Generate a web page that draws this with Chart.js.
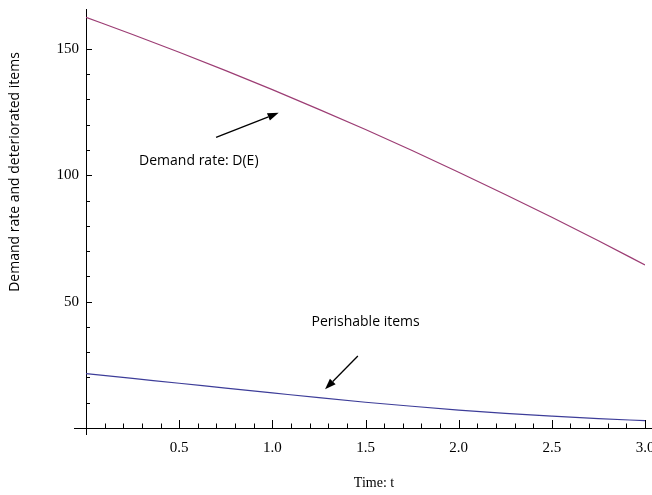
<!DOCTYPE html>
<html>
<head>
<meta charset="utf-8">
<script src="https://cdn.jsdelivr.net/npm/chart.js@4/dist/chart.umd.min.js"></script>
<style>
  html, body { margin: 0; padding: 0; background: #fff; }
  #wrap { width: 652px; height: 495px; }
</style>
</head>
<body>
<div id="wrap"><canvas id="demandChart"></canvas></div>
<script>
// values
const timeValues = [0, 0.25, 0.5, 0.75, 1.0, 1.25, 1.5, 1.75, 2.0, 2.25, 2.5, 2.75, 3.0];
const demandRate = [162.5, 155.7, 148.7, 141.4, 133.9, 126.1, 118.1, 109.8, 101.2, 92.4, 83.4, 74.1, 64.5];
const perishableItems = [21.5, 19.6, 17.7, 15.8, 13.9, 12.0, 10.2, 8.6, 7.1, 5.8, 4.7, 3.7, 2.9];

const xTickLabels = ["0.5", "1.0", "1.5", "2.0", "2.5", "3.0"];
const yTickLabels = ["50", "100", "150"];

const xTitle = "Time: t";
const yTitle = "Demand rate and deteriorated items";
const demandNote = "Demand rate: D(E)";
const perishNote = "Perishable items";

function toPoints(values) {
    return timeValues.map((t, i) => ({ x: t, y: values[i] }));
}

function arrow(ctx, x1, y1, x2, y2) {
    const ang = Math.atan2(y2 - y1, x2 - x1);
    const len = 11, half = 4;
    const bx = x2 - len * Math.cos(ang), by = y2 - len * Math.sin(ang);
    ctx.beginPath();
    ctx.moveTo(x1, y1);
    ctx.lineTo(bx, by);
    ctx.stroke();
    ctx.beginPath();
    ctx.moveTo(x2, y2);
    ctx.lineTo(bx + half * Math.sin(ang), by - half * Math.cos(ang));
    ctx.lineTo(bx - half * Math.sin(ang), by + half * Math.cos(ang));
    ctx.closePath();
    ctx.fill();
}

// inward ticks, axis overhangs, titles and the two notes
const decor = {
    id: "decor",
    afterDraw(chart) {
        const { ctx, chartArea } = chart;
        const x = chart.scales.x, y = chart.scales.y;
        const x0 = x.getPixelForValue(0), y0 = y.getPixelForValue(0);
        ctx.save();
        ctx.strokeStyle = "#000";
        ctx.fillStyle = "#000";
        ctx.lineWidth = 1;

        // axis overhangs
        ctx.beginPath();
        ctx.moveTo(x0 - 12, y0 + 0.5);
        ctx.lineTo(x0, y0 + 0.5);
        ctx.moveTo(chartArea.right, y0 + 0.5);
        ctx.lineTo(652, y0 + 0.5);
        ctx.moveTo(x0 + 0.5, y0);
        ctx.lineTo(x0 + 0.5, y0 + 7);
        ctx.stroke();

        // x ticks
        ctx.beginPath();
        for (let i = 1; i <= 30; i++) {
            const px = Math.round(x.getPixelForValue(i / 10)) + 0.5;
            const h = i % 5 === 0 ? 8 : 4.5;
            ctx.moveTo(px, y0);
            ctx.lineTo(px, y0 - h);
        }
        // y ticks
        for (let v = 10; v <= 150; v += 10) {
            const py = Math.round(y.getPixelForValue(v)) + 0.5;
            const w = v % 50 === 0 ? 6 : 4;
            ctx.moveTo(x0, py);
            ctx.lineTo(x0 + w, py);
        }
        ctx.stroke();

        // titles
        ctx.font = "14px 'Liberation Serif'";
        ctx.textAlign = "center";
        ctx.textBaseline = "middle";
        ctx.fillText(xTitle, 374, 483);

        ctx.save();
        ctx.translate(15, 172);
        ctx.rotate(-Math.PI / 2);
        ctx.font = "14px 'Open Sans'";
        ctx.fillText(yTitle, 0, 0);
        ctx.restore();

        // notes with arrows
        ctx.font = "14px 'Open Sans'";
        ctx.textAlign = "left";
        ctx.fillText(demandNote, x.getPixelForValue(0.285), y.getPixelForValue(105.6));
        ctx.fillText(perishNote, x.getPixelForValue(1.21), y.getPixelForValue(42));

        ctx.lineWidth = 1.3;
        arrow(ctx, x.getPixelForValue(0.698), y.getPixelForValue(115.0),
                   x.getPixelForValue(1.034), y.getPixelForValue(124.7));
        arrow(ctx, x.getPixelForValue(1.459), y.getPixelForValue(28.5),
                   x.getPixelForValue(1.283), y.getPixelForValue(15.3));
        ctx.restore();
    }
};

const ctx = document.getElementById("demandChart").getContext("2d");
new Chart(ctx, {
    type: "line",
    data: {
        datasets: [{
            label: "Demand rate",
            data: toPoints(demandRate),
            borderColor: "#9c3d74",
            borderWidth: 1.2,
            pointRadius: 0,
            cubicInterpolationMode: "monotone",
            fill: false
        }, {
            label: "Perishable items",
            data: toPoints(perishableItems),
            borderColor: "#3d3d99",
            borderWidth: 1.2,
            pointRadius: 0,
            cubicInterpolationMode: "monotone",
            fill: false
        }]
    },
    options: {
        responsive: true,
        maintainAspectRatio: false,
        animation: false,
        layout: { padding: { left: 0, top: 9, right: 7, bottom: 0 } },
        plugins: {
            legend: { display: false },
            tooltip: { enabled: false }
        },
        scales: {
            x: {
                type: "linear",
                position: "bottom",
                min: 0,
                max: 3,
                grid: { display: false, drawTicks: false },
                border: { display: true, color: "#000", width: 1 },
                afterBuildTicks: scale => {
                    scale.ticks = xTickLabels.map(s => ({ value: parseFloat(s) }));
                },
                afterFit: scale => {
                    scale.height = 67;
                    scale.paddingLeft = 0;
                    scale.paddingRight = 0;
                },
                ticks: {
                    autoSkip: false,
                    maxRotation: 0,
                    padding: 11,
                    color: "#000",
                    font: { family: "'Liberation Serif'", size: 15 },
                    callback: value => xTickLabels.find(s => parseFloat(s) === value) || ""
                }
            },
            y: {
                type: "linear",
                position: "left",
                min: 0,
                max: 165.8,
                grid: { display: false, drawTicks: false },
                border: { display: true, color: "#000", width: 1 },
                afterBuildTicks: scale => {
                    scale.ticks = yTickLabels.map(s => ({ value: parseFloat(s) }));
                },
                afterFit: scale => {
                    scale.width = 86;
                    scale.paddingTop = 0;
                    scale.paddingBottom = 0;
                },
                ticks: {
                    autoSkip: false,
                    padding: 7,
                    color: "#000",
                    font: { family: "'Liberation Serif'", size: 15 },
                    callback: value => yTickLabels.find(s => parseFloat(s) === value) || ""
                }
            }
        }
    },
    plugins: [decor]
});
</script>
</body>
</html>
